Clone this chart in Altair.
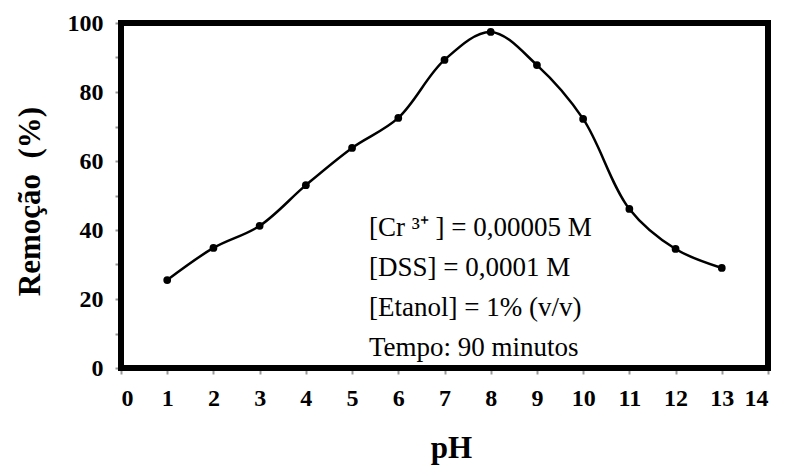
import altair as alt
import pandas as pd

ph = [1, 2, 3, 4, 5, 6, 7, 8, 9, 10, 11, 12, 13]
remocao = [25.5, 34.8, 41.2, 53.0, 63.8, 72.5, 89.3, 97.4, 87.8, 72.2, 46.1, 34.5, 29.0]
x_ticks = list(range(0, 15))
y_ticks = list(range(0, 101, 10))
notes = "[Cr ³⁺ ] = 0,00005 M\n[DSS] = 0,0001 M\n[Etanol] = 1% (v/v)\nTempo: 90 minutos"

df = pd.DataFrame({"pH": ph, "Remocao": remocao})
SERIF = "Liberation Serif"

x = alt.X("pH:Q", scale=alt.Scale(domain=[0, 14], nice=False),
          axis=alt.Axis(values=x_ticks, title="pH", format="d", domain=False,
                        titleX=330, titleY=80, titleBaseline="middle",
                        titleAlign="center", labelPadding=12))
y = alt.Y("Remocao:Q", scale=alt.Scale(domain=[0, 100], nice=False),
          axis=alt.Axis(values=y_ticks, title="Remoção\u00a0\u00a0(%)", domain=False,
                        labelExpr="datum.value % 20 == 0 ? datum.label : ''",
                        titleX=-91, titleY=178, titleAngle=270,
                        titleBaseline="middle", titleAlign="center",
                        labelPadding=12))

frame = alt.Chart(pd.DataFrame({"t": [0]})).mark_rect(
    fillOpacity=0, stroke="#000000", strokeWidth=6, strokeOpacity=1
).encode(x=alt.value(0), x2=alt.value(647), y=alt.value(0), y2=alt.value(345))
line = alt.Chart(df).mark_line(color="black", strokeWidth=2.5,
                               interpolate="catmull-rom").encode(x=x, y=y)
pts = alt.Chart(df).mark_circle(color="black", size=60, opacity=1).encode(x=x, y=y)
txt = alt.Chart(pd.DataFrame({"t": [notes]})).mark_text(
    font=SERIF, fontSize=27, align="left", baseline="alphabetic",
    lineBreak="\n", lineHeight=40, color="black"
).encode(text="t:N", x=alt.value(248), y=alt.value(213))

chart = (frame + line + pts + txt).properties(
    width=647, height=345,
    autosize=alt.AutoSizeParams(type="none"),
    padding={"left": 121, "top": 23, "right": 19, "bottom": 97},
    background="white",
).configure_view(stroke="black", strokeWidth=3
).configure_axis(
    tickColor="#999999", tickWidth=2, tickSize=6, tickOffset=0,
    grid=False, labelFont=SERIF, labelFontWeight="bold",
    labelFontSize=24, labelColor="black", titleFont=SERIF,
    titleFontWeight="bold", titleFontSize=31, titleColor="black",
)

chart.save("out.html", embed_options={"renderer": "svg", "actions": False})
